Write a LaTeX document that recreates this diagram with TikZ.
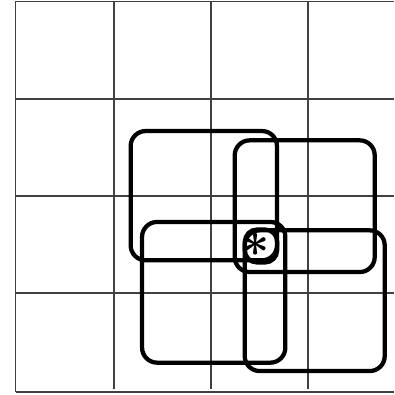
\documentclass[tikz,border=0pt]{standalone}
\usepackage{bm}
\begin{document}
\begin{tikzpicture}[x=0.010309cm,y=-0.010309cm,
  gridline/.style={line width=0.4pt,draw=black!75},
  rbox/.style={draw=black,line width=1.25pt,rounded corners=4.4pt,inner sep=0pt,fill=none}]
\useasboundingbox (0,0) rectangle (394,395);
% grid
\draw[gridline] (15.5,1.5) -- (394,1.5);
\draw[gridline] (15.5,99) -- (394,99);
\draw[gridline] (15.5,196) -- (394,196);
\draw[gridline] (15.5,293) -- (394,293);
\draw[gridline] (15.5,392) -- (394,392);
\draw[gridline] (15.5,1.5) -- (15.5,392);
\draw[gridline] (114,1.5) -- (114,389);
\draw[gridline] (211,1.5) -- (211,389);
\draw[gridline] (308,1.5) -- (308,389);
% rounded boxes
\node[rbox,minimum width=146.3*0.010309cm,minimum height=129.3*0.010309cm] (A) at (203.8,195.7) {};
\node[rbox,minimum width=140*0.010309cm,minimum height=131.7*0.010309cm] (B) at (304.7,206.2) {};
\node[rbox,minimum width=143.3*0.010309cm,minimum height=140.7*0.010309cm] (C) at (213.7,292.3) {};
\node[rbox,minimum width=140*0.010309cm,minimum height=140.7*0.010309cm] (D) at (314.7,300.7) {};
\node[rbox,rounded corners=3.6pt,minimum width=32.3*0.010309cm,minimum height=33*0.010309cm] (E) at (261,246) {};
\node[inner sep=0pt] (star) at (255.7,245.3) {\Large$\bm{\ast}$};
\end{tikzpicture}
\end{document}
